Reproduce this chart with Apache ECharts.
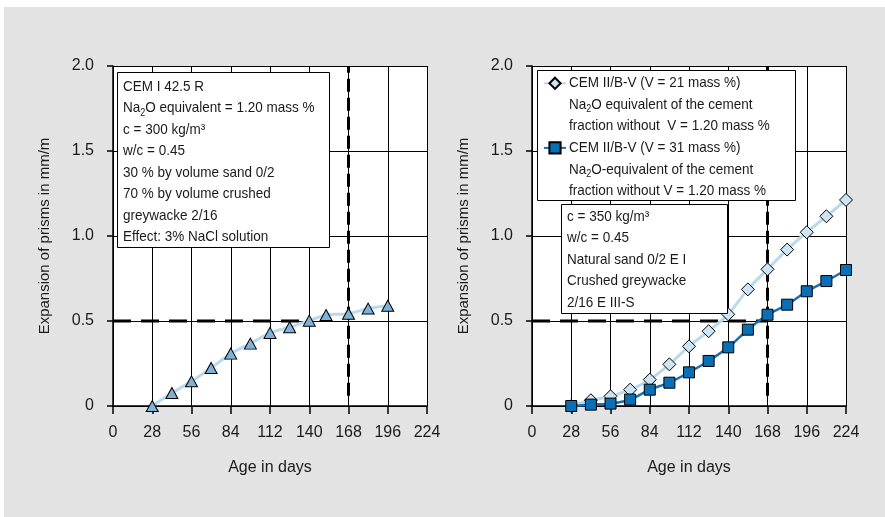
<!DOCTYPE html>
<html>
<head>
<meta charset="utf-8">
<script src="https://cdn.jsdelivr.net/npm/echarts@6/dist/echarts.min.js"></script>
<style>
html,body{margin:0;padding:0;background:#ffffff;}
#bg{position:absolute;left:4px;top:7px;right:0;bottom:0;background:#e2e3e2;}
#chart{position:absolute;left:0;top:0;width:885px;height:517px;}
</style>
</head>
<body>
<div id="bg"></div>
<div id="chart"></div>
<script>
// ---- data ----
const daysLeft = [28, 42, 56, 70, 84, 98, 112, 126, 140, 152, 168, 182, 196];
const expansionCEMI = [0.0, 0.076, 0.145, 0.224, 0.308, 0.367, 0.43, 0.463, 0.502, 0.535, 0.543, 0.573, 0.59];

const daysRight = [28, 42, 56, 70, 84, 98, 112, 126, 140, 154, 168, 182, 196, 210, 224];
const expansionV21 = [0.0, 0.034, 0.057, 0.096, 0.155, 0.245, 0.351, 0.44, 0.539, 0.686, 0.804, 0.92, 1.022, 1.116, 1.212];
const expansionV31 = [0.0, 0.008, 0.014, 0.038, 0.096, 0.137, 0.198, 0.265, 0.345, 0.449, 0.537, 0.596, 0.675, 0.735, 0.80];

const yTickLabels = ['0', '0.5', '1.0', '1.5', '2.0'];

// reference (limit) lines
const limitLeftH = [[0, 0.5], [140, 0.5]];
const limitLeftV = [[168, 0.06], [168, 2.0]];
const limitRightH = [[0, 0.5], [168, 0.5]];
const limitRightV = [[168, 0.06], [168, 2.0]];

const seriesNames = ['CEM II/B-V (V = 21 mass %)', 'CEM II/B-V (V = 31 mass %)'];

// ---- styles ----
const REG = '"Liberation Sans", Arial, sans-serif';
const TXT = '#1a1a1a';
const SX = 0.9;

function pair(xs, ys) { return xs.map((x, i) => [x, ys[i]]); }

function xAxis(idx) {
  return {
    type: 'value', gridIndex: idx, min: 0, max: 224, interval: 28,
    name: 'Age in days', nameLocation: 'middle', nameGap: 54,
    nameTextStyle: { fontFamily: REG, fontSize: 16, color: TXT },
    axisLine: { show: true, onZero: false, lineStyle: { color: '#000', width: 1.5 } },
    axisTick: { show: true, length: 8, lineStyle: { color: '#000', width: 1.5 } },
    axisLabel: { fontFamily: REG, fontSize: 16, color: TXT, margin: 19 },
    splitLine: { show: true, lineStyle: { color: '#000', width: 1 } }
  };
}
function yAxis(idx) {
  return {
    type: 'value', gridIndex: idx, min: 0, max: 2, interval: 0.5,
    name: 'Expansion of prisms in mm/m', nameLocation: 'middle', nameGap: 61,
    nameTextStyle: { fontFamily: REG, fontSize: 15, color: TXT },
    axisLine: { show: true, lineStyle: { color: '#000', width: 1.5 } },
    axisTick: { show: true, length: 6, lineStyle: { color: '#000', width: 1.5 } },
    axisLabel: { fontFamily: REG, fontSize: 16, color: TXT, margin: 19,
      formatter: (v) => yTickLabels[Math.round(v / 0.5)] },
    splitLine: { show: true, lineStyle: { color: '#000', width: 1 } }
  };
}
function dashed(data, xi, yi, dash) {
  return {
    type: 'line', xAxisIndex: xi, yAxisIndex: yi, data: data, symbol: 'none',
    silent: true, z: 3,
    lineStyle: { color: '#000', width: 3, type: dash }
  };
}

const richBox = {
  a: { fontFamily: REG, fontSize: 15, color: TXT, lineHeight: 21.5 },
  s: { fontFamily: REG, fontSize: 10, color: TXT, lineHeight: 21.5, verticalAlign: 'bottom', padding: [0, 0, 1, 0] }
};
function boxText(x, y, lines, z) {
  return { type: 'text', z: z || 16, x: x, y: y, scaleX: SX, scaleY: 1,
    style: { text: lines.join('\n'), rich: richBox, fill: TXT } };
}

const chart = echarts.init(document.getElementById('chart'), null, { renderer: 'canvas' });
chart.setOption({
  backgroundColor: 'transparent',
  animation: false,
  grid: [
    { left: 113, top: 66, width: 314, height: 340, show: true, backgroundColor: '#fff', borderWidth: 0 },
    { left: 532, top: 66, width: 314, height: 340, show: true, backgroundColor: '#fff', borderWidth: 0 }
  ],
  xAxis: [xAxis(0), xAxis(1)],
  yAxis: [yAxis(0), yAxis(1)],
  legend: {
    show: true, orient: 'vertical', left: 543, top: 76.3, z: 20,
    data: seriesNames, itemWidth: 22, itemHeight: 14, itemGap: 51,
    formatter: () => '',
    textStyle: { fontSize: 1 },
    padding: 0, selectedMode: false
  },
  series: [
    dashed(limitLeftH, 0, 0, [18, 10]),
    dashed(limitLeftV, 0, 0, [13, 6]),
    dashed(limitRightH, 1, 1, [18, 10]),
    dashed(limitRightV, 1, 1, [13, 6]),
    {
      name: 'CEM I 42.5 R', type: 'line', xAxisIndex: 0, yAxisIndex: 0,
      data: pair(daysLeft, expansionCEMI), smooth: 0.3, z: 5,
      symbol: 'triangle', symbolSize: [12, 11],
      lineStyle: { color: '#bcdaee', width: 3 },
      itemStyle: { color: '#7fb2d6', borderColor: '#000', borderWidth: 1 }
    },
    {
      name: seriesNames[0], type: 'line', xAxisIndex: 1, yAxisIndex: 1,
      data: pair(daysRight, expansionV21), smooth: 0.3, z: 5,
      symbol: 'diamond', symbolSize: 13,
      lineStyle: { color: '#b9d9ee', width: 3 },
      itemStyle: { color: '#cce4f4', borderColor: '#000', borderWidth: 1 }
    },
    {
      name: seriesNames[1], type: 'line', xAxisIndex: 1, yAxisIndex: 1,
      data: pair(daysRight, expansionV31), smooth: 0.3, z: 6,
      symbol: 'rect', symbolSize: 11,
      lineStyle: { color: '#1a6fb3', width: 2.5 },
      itemStyle: { color: '#0a6fb5', borderColor: '#000', borderWidth: 1 }
    }
  ],
  graphic: [
    { type: 'rect', z: 15, shape: { x: 117.5, y: 72.5, width: 212, height: 175 },
      style: { fill: '#fff', stroke: '#000', lineWidth: 1 } },
    boxText(123, 76, [
      '{a|CEM I 42.5 R}',
      '{a|Na}{s|2}{a|O equivalent = 1.20 mass %}',
      '{a|c = 300 kg/m³}',
      '{a|w/c = 0.45}',
      '{a|30 % by volume sand 0/2}',
      '{a|70 % by volume crushed}',
      '{a|greywacke 2/16}',
      '{a|Effect: 3% NaCl solution}'
    ]),
    { type: 'rect', z: 15, shape: { x: 537.5, y: 70.5, width: 258, height: 130 },
      style: { fill: '#fff', stroke: '#000', lineWidth: 1 } },
    boxText(569, 72.5, [
      '{a|' + seriesNames[0] + '}',
      '{a|Na}{s|2}{a|O equivalent of the cement}',
      '{a|fraction without  V = 1.20 mass %}'
    ], 21),
    boxText(569, 137.5, [
      '{a|' + seriesNames[1] + '}',
      '{a|Na}{s|2}{a|O-equivalent of the cement}',
      '{a|fraction without V = 1.20 mass %}'
    ], 21),
    { type: 'rect', z: 15, shape: { x: 561.5, y: 204.5, width: 166, height: 109 },
      style: { fill: '#fff', stroke: '#000', lineWidth: 1 } },
    boxText(567, 206, [
      '{a|c = 350 kg/m³}',
      '{a|w/c = 0.45}',
      '{a|Natural sand 0/2 E I}',
      '{a|Crushed greywacke}',
      '{a|2/16 E III-S}'
    ])
  ]
});
</script>
</body>
</html>
